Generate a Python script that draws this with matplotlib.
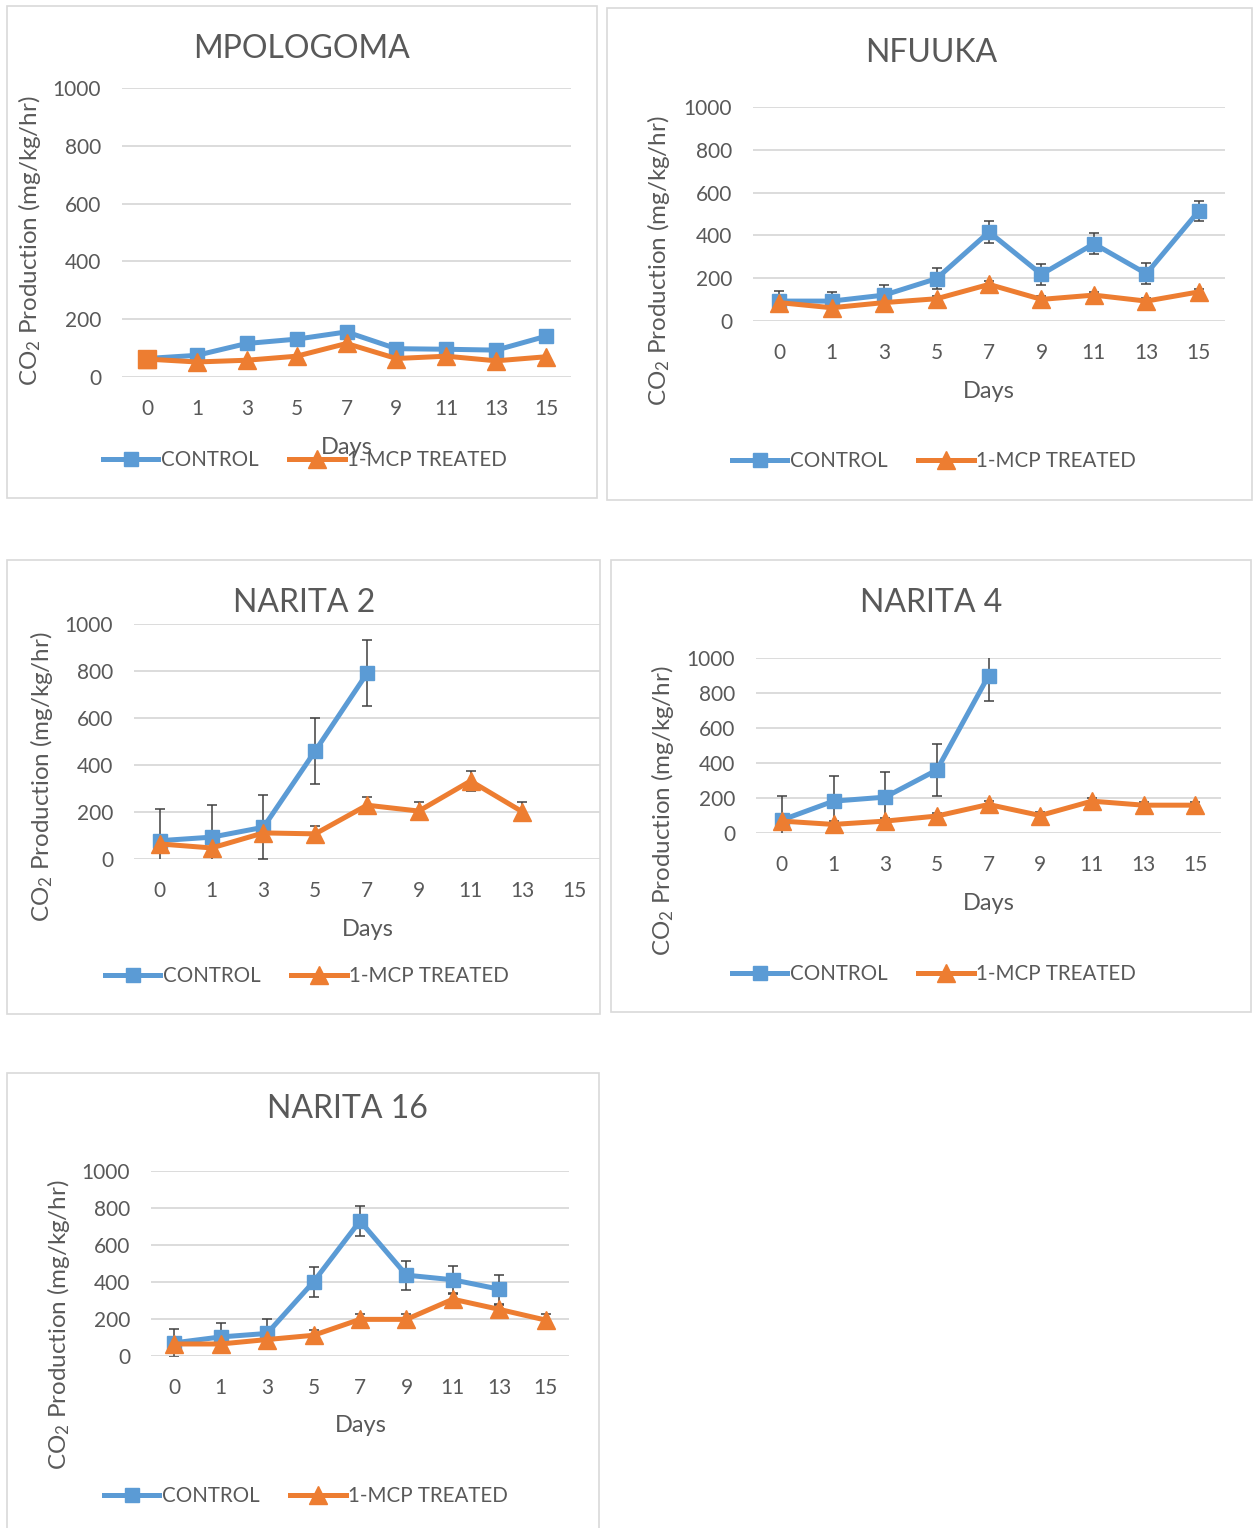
import numpy as np
import matplotlib
matplotlib.use("Agg")
import matplotlib.pyplot as plt
from matplotlib.patches import Rectangle
from matplotlib.lines import Line2D

plt.rcParams["font.family"] = ["Lato", "DejaVu Sans"]
plt.rcParams["mathtext.default"] = "regular"

BLUE = "#5B9BD5"
ORANGE = "#ED7D31"
TEXT = "#595959"
GRID = "#D9D9D9"
ERR = "#404040"

days = ["0", "1", "3", "5", "7", "9", "11", "13", "15"]
nan = np.nan

# MPOLOGOMA
mpo_control = [64, 75, 116, 131, 156, 98, 96, 93, 141]
mpo_treated = [62, 52, 58, 72, 116, 64, 72, 56, 70]

# NFUUKA
nfu_control = [93, 93, 121, 198, 416, 218, 361, 221, 514]
nfu_control_err = [45, 44, 45, 50, 50, 50, 50, 48, 49]
nfu_treated = [86, 62, 86, 104, 171, 101, 121, 93, 136]
nfu_treated_err = [15, 15, 15, 15, 15, 15, 15, 15, 15]

# NARITA 2
n2_control = [78, 93, 135, 460, 790, nan, nan, nan, nan]
n2_control_err = [133, 136, 137, 140, 141, nan, nan, nan, nan]
n2_treated = [64, 47, 111, 107, 229, 204, 332, 201, nan]
n2_treated_err = [38, 38, 38, 35, 36, 40, 41, 41, nan]

# NARITA 4
n4_control = [74, 182, 205, 360, 898, nan, nan, nan, nan]
n4_control_err = [138, 142, 145, 148, 142, nan, nan, nan, nan]
n4_treated = [68, 49, 68, 97, 163, 100, 182, 159, 159]
n4_treated_err = [18, 18, 18, 18, 18, 18, 18, 18, 18]

# NARITA 16
n16_control = [71, 103, 122, 401, 730, 437, 412, 361, nan]
n16_control_err = [74, 77, 76, 80, 79, 79, 76, 78, nan]
n16_treated = [65, 65, 89, 112, 198, 198, 307, 252, 194]
n16_treated_err = [30, 30, 30, 31, 29, 29, 33, 24, 31]

W, H = 1253, 1528
fig = plt.figure(figsize=(W / 100, H / 100), dpi=100)


def fx(x):
    return x / W


def fy(y):
    return 1 - y / H


def panel(box, area, title, title_xy, days_xy, ylab_xy, legend_x, legend_y,
          control, treated, control_err=None, treated_err=None, first_square=False):
    x0, y0, x1, y1 = box
    fig.patches.append(Rectangle((fx(x0), fy(y1)), fx(x1 - x0), (y1 - y0) / H,
                                 transform=fig.transFigure, fill=False,
                                 edgecolor=GRID, linewidth=1.2))
    ax0, ay0, ax1, ay1 = area
    ax = fig.add_axes([fx(ax0), fy(ay1), fx(ax1 - ax0), (ay1 - ay0) / H])
    xs = np.arange(len(days))
    ax.set_xlim(-0.5, len(days) - 0.5)
    ax.set_ylim(0, 1000)
    ax.set_yticks(range(0, 1001, 200))
    ax.set_xticks(xs)
    ax.set_xticklabels(days)
    for s in ax.spines.values():
        s.set_visible(False)
    ax.grid(axis="y", color=GRID, linewidth=1.3)
    ax.set_axisbelow(True)
    ax.tick_params(length=0, labelsize=15, colors=TEXT)
    ax.tick_params(axis="x", pad=16)
    ax.tick_params(axis="y", pad=15)

    c = np.array(control, dtype=float)
    t = np.array(treated, dtype=float)
    if control_err is not None:
        ax.errorbar(xs, c, yerr=control_err, fmt="none", ecolor=ERR,
                    elinewidth=1.1, capsize=3.5, capthick=1.1, zorder=3)
    if treated_err is not None:
        ax.errorbar(xs, t, yerr=treated_err, fmt="none", ecolor=ERR,
                    elinewidth=1.1, capsize=3.5, capthick=1.1, zorder=3)
    ax.plot(xs, c, color=BLUE, linewidth=3.6, marker="s", markersize=10.5,
            zorder=4, clip_on=False)
    ax.plot(xs, t, color=ORANGE, linewidth=3.6, marker="^", markersize=12.5,
            zorder=5, clip_on=False)
    if first_square:
        ax.plot(xs[:1], t[:1], color=ORANGE, marker="s", markersize=13,
                linestyle="none", zorder=6, clip_on=False)

    fig.text(fx(title_xy[0]), fy(title_xy[1]), title, ha="center", va="center",
             fontsize=23, color=TEXT)
    fig.text(fx(days_xy[0]), fy(days_xy[1]), "Days", ha="center", va="center",
             fontsize=17, color=TEXT)
    fig.text(fx(ylab_xy[0]), fy(ylab_xy[1]), "CO$_2$ Production (mg/kg/hr)",
             ha="center", va="center", rotation=90, fontsize=17.4, color=TEXT)

    handles = [
        Line2D([], [], color=BLUE, linewidth=3.6, marker="s", markersize=10.5),
        Line2D([], [], color=ORANGE, linewidth=3.6, marker="^", markersize=12.5),
    ]
    leg = ax.legend(handles, ["CONTROL", "1-MCP TREATED"], ncol=2, loc="center",
                    bbox_to_anchor=(fx(legend_x), fy(legend_y)),
                    bbox_transform=fig.transFigure, frameon=False, fontsize=14.8,
                    handlelength=2.7, handletextpad=0.12, columnspacing=1.5)
    for txt in leg.get_texts():
        txt.set_color(TEXT)
    return ax


panel((7, 6, 597, 498), (122, 88, 571, 377), "MPOLOGOMA", (302, 49), (347, 447),
      (30, 241), 305, 460, mpo_control, mpo_treated, first_square=True)
panel((607, 8, 1252, 500), (753, 107, 1225, 321), "NFUUKA", (931, 53), (989, 392),
      (658, 261), 934, 461, nfu_control, nfu_treated, nfu_control_err, nfu_treated_err)
panel((7, 560, 600, 1014), (134, 624, 600, 859), "NARITA 2", (304, 603), (368, 930),
      (42, 777), 307, 976, n2_control, n2_treated, n2_control_err, n2_treated_err)
panel((611, 560, 1251, 1012), (756, 658, 1221, 833), "NARITA 4", (931, 603), (989, 904),
      (662, 811), 934, 974, n4_control, n4_treated, n4_control_err, n4_treated_err)
panel((7, 1073, 599, 1540), (151, 1171, 569, 1356), "NARITA 16", (347, 1109), (361, 1426),
      (59, 1325), 306, 1496, n16_control, n16_treated, n16_control_err, n16_treated_err)

fig.savefig("out.png", dpi=100)
